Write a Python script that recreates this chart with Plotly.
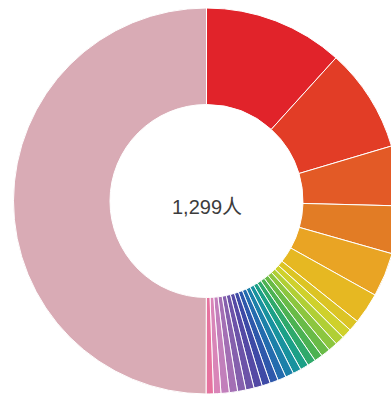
import plotly.graph_objects as go

# Headcount by group, listed clockwise from 12 o'clock
groups = [f"第{i}组" for i in range(1, 28)]
headcount = [152, 113, 65, 52, 48, 34,
             12, 11, 10, 10, 10, 9, 9, 9, 9, 9, 9, 9, 9, 9, 9, 9, 9, 9, 8, 8,
             649]
total_label = "1,299人"

slice_colors = [
    "#e1232a", "#e23d26", "#e35a26", "#e27c25", "#e9a424", "#e6b822",
    "#dcc424", "#cfd12b", "#b0cf35", "#8cc63f", "#69bb47", "#4cb252",
    "#2fa96b", "#1ba087", "#18929e", "#1c80a9", "#246cae", "#2e58ab",
    "#3e4aa6", "#5449a5", "#6c53a8", "#8560ad", "#a36fb4", "#c27fbb",
    "#d985b8", "#e6739f", "#d9abb5",
]

fig = go.Figure(
    go.Pie(
        labels=groups,
        values=headcount,
        hole=0.5,
        sort=False,
        direction="clockwise",
        rotation=0,
        textinfo="none",
        hoverinfo="label+value+percent",
        marker=dict(colors=slice_colors, line=dict(color="#ffffff", width=1)),
        showlegend=False,
    )
)

fig.add_annotation(
    text=total_label, x=0.5, y=0.5, xref="paper", yref="paper", yshift=-6,
    showarrow=False,
    font=dict(family="Liberation Sans, Noto Sans CJK SC", size=20, color="#3c3c3c"),
)

fig.update_layout(
    width=400, height=394,
    margin=dict(l=13, r=0, t=8, b=0),
    paper_bgcolor="#ffffff", plot_bgcolor="#ffffff",
)

fig.write_html(
    "out.html",
    post_script="document.documentElement.style.overflow='hidden';"
                "document.body.style.overflow='hidden';document.body.style.margin='0';",
)
